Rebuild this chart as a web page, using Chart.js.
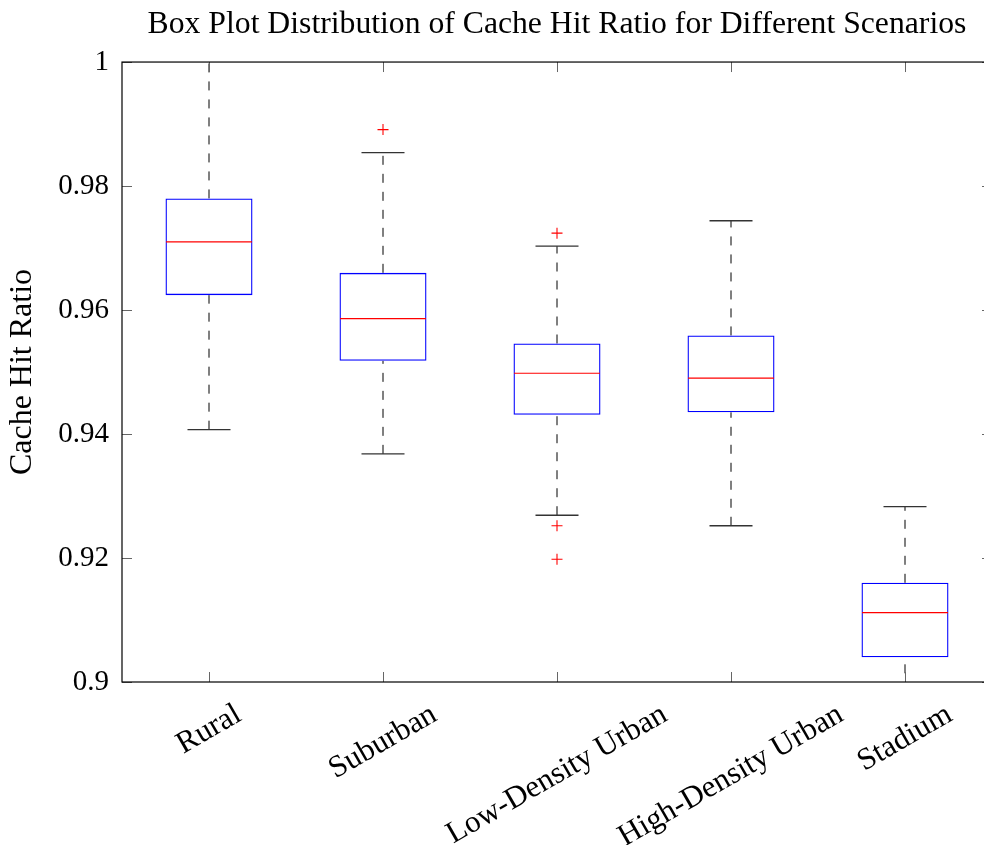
<!DOCTYPE html>
<html>
<head>
<meta charset="utf-8">
<title>Cache Hit Ratio box plot</title>
<script src="https://cdn.jsdelivr.net/npm/chart.js@4.4.1/dist/chart.umd.min.js"></script>
<style>
  html, body { margin: 0; padding: 0; background: #fff; overflow: hidden; }
  #wrap { position: relative; width: 992px; height: 845px; }
</style>
</head>
<body>
<div id="wrap"><canvas id="chart"></canvas></div>
<script>
// Datos.
const scenarios = ["Rural", "Suburban", "Low-Density Urban", "High-Density Urban", "Stadium"];
const whiskerLow = [0.9407, 0.9368, 0.9269, 0.9252, 0.8985];
const quartile1 = [0.9624, 0.9518, 0.9431, 0.9435, 0.9040];
const medians = [0.9710, 0.9586, 0.9498, 0.9490, 0.9112];
const quartile3 = [0.9780, 0.9660, 0.9546, 0.9559, 0.9160];
const whiskerHigh = [1.0030, 0.9854, 0.9703, 0.9744, 0.9283];
const outliers = [[], [0.9891], [0.9724, 0.9252, 0.9198], [], []];
const yTicks = [0.9, 0.92, 0.94, 0.96, 0.98, 1];

const FONT = "'Liberation Serif', 'DejaVu Serif', serif";
const TICK_SIZE = 29;
const CAT_SIZE = 31;

// Marcas hacia dentro, marco y etiquetas giradas del eje x.
const framePlugin = {
  id: "frameTicks",
  afterDatasetsDraw(chart) {
    const {ctx, chartArea: a, scales: {x, y}} = chart;
    ctx.save();
    ctx.strokeStyle = "#666";
    ctx.lineWidth = 1;
    ctx.beginPath();
    y.ticks.forEach(t => {
      const py = Math.round(y.getPixelForValue(t.value)) + 0.5;
      ctx.moveTo(a.left, py); ctx.lineTo(a.left + 10, py);
      ctx.moveTo(a.right, py); ctx.lineTo(a.right - 10, py);
    });
    scenarios.forEach((s, i) => {
      const px = Math.round(x.getPixelForValue(i)) + 0.5;
      ctx.moveTo(px, a.top); ctx.lineTo(px, a.top + 10);
      ctx.moveTo(px, a.bottom); ctx.lineTo(px, a.bottom - 10);
    });
    ctx.stroke();
    ctx.strokeStyle = "#000";
    ctx.lineWidth = 1.2;
    ctx.strokeRect(a.left, a.top, a.right - a.left, a.bottom - a.top);
    ctx.restore();
  },
  afterDraw(chart) {
    const {ctx, chartArea: a, scales: {x}} = chart;
    const ang = 30 * Math.PI / 180;
    ctx.save();
    ctx.font = `${CAT_SIZE}px ${FONT}`;
    ctx.fillStyle = "#000";
    ctx.textAlign = "center";
    ctx.textBaseline = "middle";
    scenarios.forEach((s, i) => {
      const w = ctx.measureText(s).width;
      const h = CAT_SIZE * 0.85;
      const boxH = w * Math.sin(ang) + h * Math.cos(ang);
      ctx.save();
      ctx.translate(x.getPixelForValue(i), a.bottom + 19 + boxH / 2);
      ctx.rotate(-ang);
      ctx.fillText(s, 0, 0);
      ctx.restore();
    });
    ctx.restore();
  }
};

const whiskerPoints = scenarios.flatMap((s, i) => [
  {x: s, y: whiskerLow[i]}, {x: s, y: quartile1[i]}, {x: s, y: null},
  {x: s, y: quartile3[i]}, {x: s, y: whiskerHigh[i]}, {x: s, y: null}
]);
const capPoints = scenarios.flatMap((s, i) => [{x: s, y: whiskerLow[i]}, {x: s, y: whiskerHigh[i]}]);
const medianPoints = scenarios.map((s, i) => ({x: s, y: medians[i]}));
const outlierPoints = scenarios.flatMap((s, i) => outliers[i].map(v => ({x: s, y: v})));

new Chart(document.getElementById("chart"), {
  type: "bar",
  data: {
    labels: scenarios,
    datasets: [
      {
        type: "line", label: "whiskers", data: whiskerPoints, order: 5,
        borderColor: "#000", borderWidth: 1, borderDash: [9, 9],
        pointRadius: 0, spanGaps: false, fill: false
      },
      {
        type: "bar", label: "box", data: quartile1.map((q, i) => [q, quartile3[i]]), order: 4,
        backgroundColor: "rgba(0,0,0,0)", borderColor: "#0000ff", borderWidth: 1.3,
        borderSkipped: false, barPercentage: 0.5, categoryPercentage: 1
      },
      {
        type: "line", label: "caps", data: capPoints, order: 3, showLine: false,
        pointStyle: "line", pointRadius: 21.5, pointBorderColor: "#333", pointBorderWidth: 1.3
      },
      {
        type: "line", label: "median", data: medianPoints, order: 2, showLine: false,
        pointStyle: "line", pointRadius: 43, pointBorderColor: "#ff0000", pointBorderWidth: 1.2
      },
      {
        type: "line", label: "outliers", data: outlierPoints, order: 1, showLine: false,
        pointStyle: "cross", pointRadius: 5.5, pointBorderColor: "#ff0000", pointBorderWidth: 1.1
      }
    ]
  },
  options: {
    responsive: true, maintainAspectRatio: false, animation: false,
    layout: {autoPadding: false, padding: {top: 0, left: 0, right: 0, bottom: 163}},
    scales: {
      x: {display: false, offset: true},
      y: {
        min: 0.9, max: 1.0,
        afterBuildTicks: s => { s.ticks = yTicks.map(v => ({value: v})); },
        afterFit: s => { s.width = 122; },
        ticks: {
          callback: v => String(Number(v.toFixed(2))),
          padding: 13, color: "#000", font: {family: FONT, size: TICK_SIZE}
        },
        grid: {display: false, drawTicks: false},
        border: {display: false},
        title: {
          display: true, text: "Cache Hit Ratio", color: "#000",
          font: {family: FONT, size: 32}, padding: {top: 3, bottom: 0}
        }
      }
    },
    plugins: {
      legend: {display: false},
      tooltip: {enabled: false},
      title: {
        display: true, fullSize: false,
        text: "Box Plot Distribution of Cache Hit Ratio for Different Scenarios",
        color: "#000", font: {family: FONT, size: 31.7, weight: "normal"},
        padding: {top: 6, bottom: 18}
      }
    }
  },
  plugins: [framePlugin]
});
</script>
</body>
</html>
